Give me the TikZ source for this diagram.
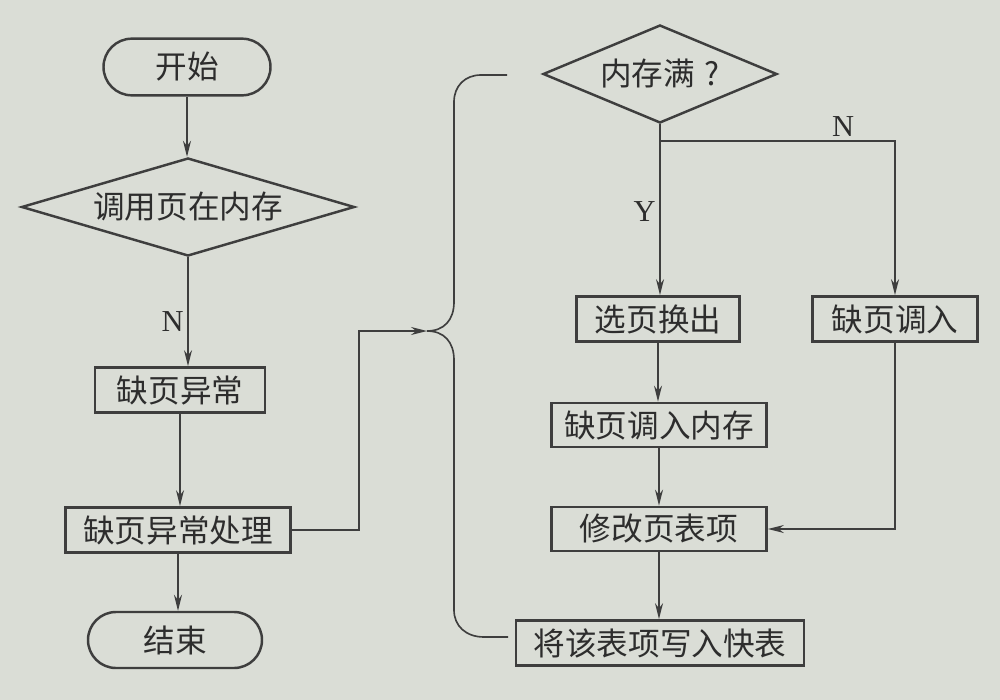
\documentclass[tikz,border=0pt]{standalone}
\usepackage{fontspec}
\setmainfont{Liberation Serif}
\newfontfamily\cjk{Noto Sans CJK SC}
\usetikzlibrary{shapes.geometric,shapes.misc,arrows.meta}
\definecolor{bg}{RGB}{218,221,214}
\definecolor{ink}{RGB}{62,62,62}
\definecolor{txt}{RGB}{45,45,45}
\begin{document}
\begin{tikzpicture}[x=0.03cm,y=-0.03cm,
  every node/.style={text=txt, font=\cjk\fontsize{27}{30}\selectfont},
  box/.style={draw=ink, line width=2.3pt, inner sep=0pt, minimum height=1.35cm},
  term/.style={draw=ink, line width=2.1pt, rounded rectangle, inner sep=0pt, minimum height=1.7cm},
  dec/.style={draw=ink, line width=2.1pt, diamond, inner sep=0pt},
  conn/.style={draw=ink, line width=1.4pt},
  arr/.style={conn, -{Stealth[length=0.48cm,width=0.24cm]}},
  lbl/.style={font=\fontsize{26}{28}\selectfont, inner sep=3pt}
]
\fill[bg] (0,0) rectangle (1000,700);

% left column
\node[term, minimum width=5.01cm] (start) at (187,67) {开始};
\node[dec, minimum width=9.99cm, minimum height=2.94cm, aspect=3.4] (d1) at (188,207) {调用页在内存};
\node[box, minimum width=5.1cm] (n1) at (180,390) {缺页异常};
\node[box, minimum width=6.75cm] (n2) at (178,530) {缺页异常处理};
\node[term, minimum width=5.22cm, minimum height=1.68cm] (end) at (175,640) {结束};

% right column
\node[dec, minimum width=7.02cm, minimum height=2.94cm, aspect=2.4] (d2) at (660,74) {内存满\kern0.3em?};
\node[box, minimum width=4.89cm] (r1) at (658,319) {选页换出};
\node[box, minimum width=4.95cm] (r2) at (895,319) {缺页调入};
\node[box, minimum width=6.45cm, minimum height=1.32cm] (r3) at (659,425) {缺页调入内存};
\node[box, minimum width=6.45cm, minimum height=1.32cm] (r4) at (659,529) {修改页表项};
\node[box, minimum width=8.64cm] (r5) at (660,643) {将该表项写入快表};

% left connectors
\draw[arr] (start.south) -- (start.south |- d1.north);
\draw[arr] (d1.south) -- (d1.south |- n1.north) node[lbl, pos=0.59, left] {N};
\draw[arr] (n1.south) -- (n1.south |- n2.north);
\draw[arr] (n2.south) -- (n2.south |- end.north);

% brace
\coordinate (cusp) at (427,331);
\coordinate (bt) at (507,75);
\coordinate (bb) at (508,637);
\draw[arr] (n2.east) -- ++(67,0) |- (cusp);
\draw[conn] (bt) -- (481,75) .. controls (465,75) and (454,86) .. (454,102)
  -- (454,302) .. controls (454,320) and (444,331) .. (cusp)
  .. controls (444,331) and (454,342) .. (454,360)
  -- (454,610) .. controls (454,626) and (466,637) .. (484,637) -- (bb);

% right connectors
\coordinate (split) at (659,141);
\draw[arr] (d2.south) -- (d2.south |- r1.north) node[lbl, pos=0.51, left] {Y};
\draw[arr] (split) -| (r2.north) node[lbl, pos=0.39, above] {N};
\draw[arr] (r1.south) -- (r1.south |- r3.north);
\draw[arr] (r3.south) -- (r4.north);
\draw[arr] (r4.south) -- (r4.south |- r5.north);
\draw[arr] (r2.south) |- (r4.east);
\end{tikzpicture}
\end{document}
